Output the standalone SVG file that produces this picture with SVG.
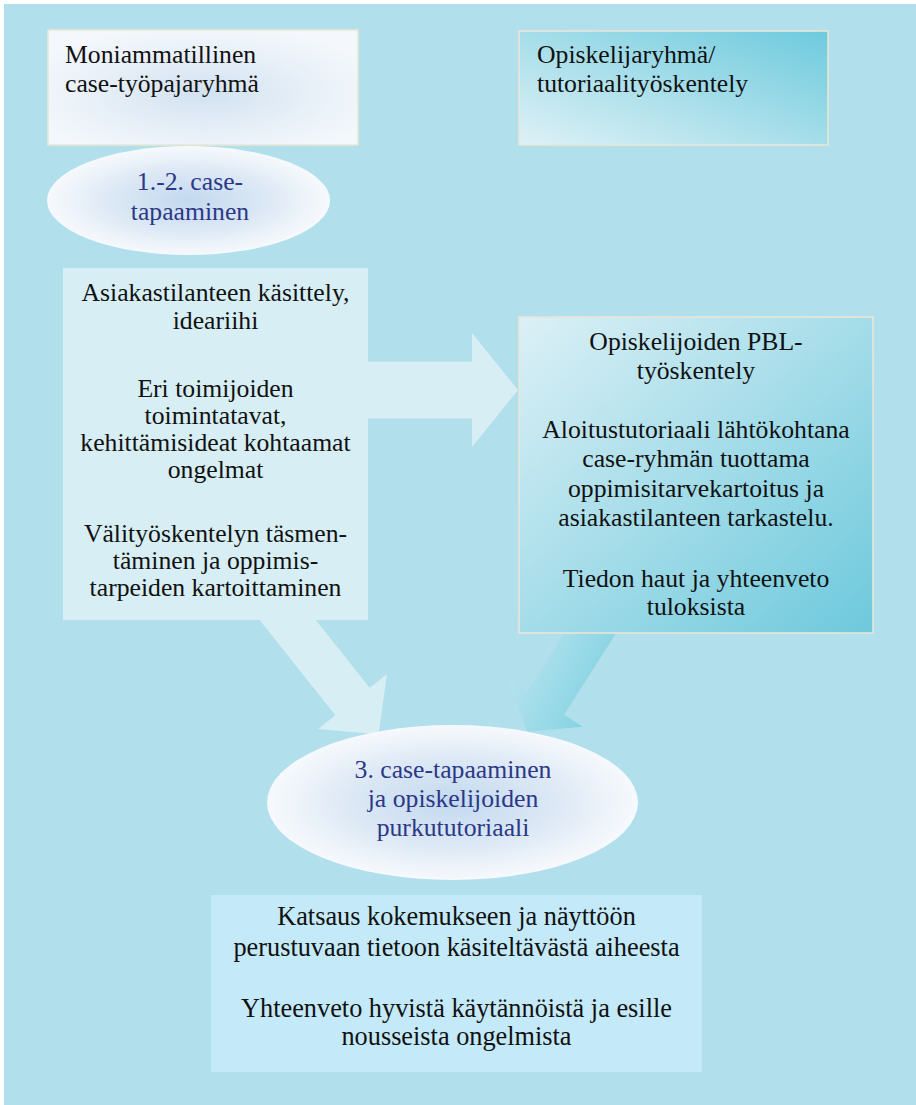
<svg xmlns="http://www.w3.org/2000/svg" width="916" height="1105" viewBox="0 0 916 1105">
  <defs>
    <style>
      .t { font-family: "Liberation Serif", "Times New Roman", Times, serif; font-size: 25.7px; fill: #111111; }
      .c { text-anchor: middle; }
      .e { fill: #2B3886; }
      .box { stroke: #E8E6D6; stroke-width: 1.6; }
    </style>
    <radialGradient id="gSoft" cx="0.5" cy="0.5" r="0.5">
      <stop offset="0" stop-color="#C3D9EF"/>
      <stop offset="0.55" stop-color="#DCE8F5"/>
      <stop offset="0.85" stop-color="#EEF4FA"/>
      <stop offset="1" stop-color="#F6F9FD"/>
    </radialGradient>
    <radialGradient id="gWhite" cx="0.5" cy="0.55" r="0.6">
      <stop offset="0" stop-color="#D2E2F1"/>
      <stop offset="0.6" stop-color="#E8F0F8"/>
      <stop offset="1" stop-color="#F4F8FC"/>
    </radialGradient>
    <linearGradient id="gTeal1" x1="0" y1="1" x2="1" y2="0">
      <stop offset="0" stop-color="#DEF1F6"/>
      <stop offset="1" stop-color="#6DCADD"/>
    </linearGradient>
    <linearGradient id="gTeal2" x1="0" y1="0" x2="1" y2="1">
      <stop offset="0" stop-color="#DCF0F6"/>
      <stop offset="1" stop-color="#6DC9DC"/>
    </linearGradient>
    <linearGradient id="gArrow" x1="0" y1="0" x2="1" y2="0.6">
      <stop offset="0" stop-color="#CDEBF3"/>
      <stop offset="1" stop-color="#7ACFE0"/>
    </linearGradient>
  </defs>

  <!-- backdrop -->
  <rect x="0" y="0" width="916" height="1105" fill="#FFFFFF"/>
  <rect x="4" y="4" width="912" height="1101" fill="#B1DFEB"/>

  <!-- connectors -->
  <g id="connectors">
    <polygon id="arrow-right" fill="#D6EEF4" points="330,361.5 472,361.5 472,333 518,390 472,447 472,418.5 330,418.5"/>
    <polygon id="arrow-down-left" fill="#D6EEF4" points="254.4,613.4 335.3,715.2 318,728.9 378.6,734.4 387,674.1 369.7,687.8 288.8,586"/>
    <polygon id="arrow-down-right" fill="url(#gArrow)" points="596.9,581.6 527,691.2 508.4,679.3 527.2,731.7 582.6,726.7 564,714.8 633.9,605.2"/>
  </g>

  <!-- header: multi-professional group -->
  <g id="node-case-group">
    <rect class="box" x="48" y="30" width="310" height="115" fill="url(#gWhite)"/>
    <text class="t" x="65" y="63">Moniammatillinen</text>
    <text class="t" x="65" y="92">case-työpajaryhmä</text>
  </g>

  <!-- header: student group -->
  <g id="node-student-group">
    <rect class="box" x="519" y="31" width="309" height="114" fill="url(#gTeal1)"/>
    <text class="t" x="537" y="63">Opiskelijaryhmä/</text>
    <text class="t" x="537" y="92">tutoriaalityöskentely</text>
  </g>

  <!-- meetings 1-2 -->
  <g id="node-meeting-1-2">
    <ellipse cx="188.5" cy="200.5" rx="141.5" ry="54.5" fill="url(#gSoft)"/>
    <text class="t c e" x="190" y="190">1.-2. case-</text>
    <text class="t c e" x="190" y="220">tapaaminen</text>
  </g>

  <!-- case handling -->
  <g id="node-case-handling">
    <rect x="63" y="268" width="305" height="352" fill="#D6EEF4"/>
    <text class="t c" x="215.5" y="301">Asiakastilanteen käsittely,</text>
    <text class="t c" x="215.5" y="329">ideariihi</text>
    <text class="t c" x="215.5" y="397">Eri toimijoiden</text>
    <text class="t c" x="215.5" y="424">toimintatavat,</text>
    <text class="t c" x="215.5" y="451">kehittämisideat kohtaamat</text>
    <text class="t c" x="215.5" y="478">ongelmat</text>
    <text class="t c" x="215.5" y="542">Välityöskentelyn täsmen-</text>
    <text class="t c" x="215.5" y="569">täminen ja oppimis-</text>
    <text class="t c" x="215.5" y="596">tarpeiden kartoittaminen</text>
  </g>

  <!-- student PBL work -->
  <g id="node-pbl">
    <rect class="box" x="519" y="317" width="354" height="316" fill="url(#gTeal2)"/>
    <text class="t c" x="696" y="350">Opiskelijoiden PBL-</text>
    <text class="t c" x="696" y="379">työskentely</text>
    <text class="t c" x="696" y="438">Aloitustutoriaali lähtökohtana</text>
    <text class="t c" x="696" y="467">case-ryhmän tuottama</text>
    <text class="t c" x="696" y="497">oppimisitarvekartoitus ja</text>
    <text class="t c" x="696" y="526">asiakastilanteen tarkastelu.</text>
    <text class="t c" x="696" y="587">Tiedon haut ja yhteenveto</text>
    <text class="t c" x="696" y="615">tuloksista</text>
  </g>

  <!-- meeting 3 -->
  <g id="node-meeting-3">
    <ellipse cx="452.5" cy="802.5" rx="185.5" ry="77.5" fill="url(#gSoft)"/>
    <text class="t c e" x="453" y="778">3. case-tapaaminen</text>
    <text class="t c e" x="453" y="807">ja opiskelijoiden</text>
    <text class="t c e" x="453" y="836">purkututoriaali</text>
  </g>

  <!-- summary -->
  <g id="node-summary">
    <rect x="211" y="895" width="491" height="177" fill="#C4E9F8"/>
    <text class="t c" x="456.5" y="925" style="font-size:26.3px">Katsaus kokemukseen ja näyttöön</text>
    <text class="t c" x="456.5" y="956" style="font-size:26.3px">perustuvaan tietoon käsiteltävästä aiheesta</text>
    <text class="t c" x="456.5" y="1017" style="font-size:26.3px">Yhteenveto hyvistä käytännöistä ja esille</text>
    <text class="t c" x="456.5" y="1045" style="font-size:26.3px">nousseista ongelmista</text>
  </g>
</svg>
